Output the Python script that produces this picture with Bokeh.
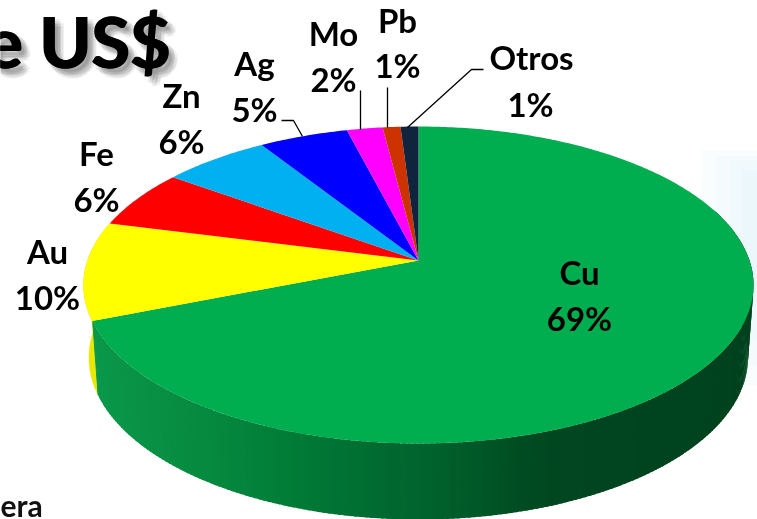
import math
from bokeh.plotting import figure
from bokeh.models import Range1d
from bokeh.core.properties import value
from bokeh.embed import file_html
from bokeh.resources import INLINE

categories = ["Cu", "Au", "Fe", "Zn", "Ag", "Mo", "Pb", "Otros"]
shares = [69, 10, 6, 6, 5, 2, 1, 1]
labels = ["69%", "10%", "6%", "6%", "5%", "2%", "1%", "1%"]
colors = ["#00AE4F", "#FFFF00", "#FF0000", "#00B0F0", "#0000FF", "#FF00FF", "#CC3300", "#10243E"]

W, H = 757, 519
FONT = value("Lato")
LIFT = 0.388  # renderer places alphabetic text this many em too low

# perspective pie geometry (pixels)
CX, TOP_CY, TOP_RX, TOP_RY = 418.0, 284.5, 335.0, 158.5
LOW_CY, LOW_RX, LOW_RY = 357.0, 329.5, 162.0
APEX = 0.1546
K = math.sqrt(1 - APEX ** 2)


def rim(theta_deg, cy, rx, ry):
    t = math.radians(theta_deg)
    X, Y = math.sin(t), math.cos(t)
    d = 1 + APEX * Y
    return CX + rx * X * K / d, cy - ry * (Y + APEX) / d


def apex():
    return CX, TOP_CY - TOP_RY * APEX


def side_color(x):
    stops = [(90, (11, 152, 74)), (200, (6, 138, 64)), (300, (0, 122, 54)), (380, (0, 106, 48)),
             (440, (0, 96, 44)), (520, (0, 76, 34)), (560, (0, 70, 32)), (760, (0, 66, 30))]
    for (x0, c0), (x1, c1) in zip(stops, stops[1:]):
        if x <= x1:
            f = max(0, (x - x0) / (x1 - x0))
            return "#%02x%02x%02x" % tuple(round(a + (b - a) * f) for a, b in zip(c0, c1))
    return "#00421e"


def put_text(x, y, s, size, align="center", color="black", alpha=1.0):
    p.text([x], [y - LIFT * size], text=[s], text_font=FONT, text_font_style="bold",
           text_font_size=f"{size}px", text_align=align, text_baseline="alphabetic",
           text_color=color, text_alpha=alpha)


p = figure(width=W, height=H, output_backend="svg", toolbar_location=None,
           x_range=Range1d(0, W), y_range=Range1d(H, 0), min_border=0,
           outline_line_color=None, background_fill_color="white", border_fill_color="white")
p.axis.visible = False
p.grid.visible = False
p.styles = {"position": "fixed", "left": "0px", "top": "0px"}

# pale blue haze of the slide background at the right edge
for x0, y0, y1 in [(700, 150, 300), (715, 155, 340), (730, 160, 365), (742, 170, 385)]:
    p.quad(left=[x0], right=[W], top=[y0], bottom=[y1], fill_color="#BBDDF5", fill_alpha=0.07, line_color=None)

# wedge boundaries, clockwise from 12 o'clock
bounds = [0.0]
for s in shares:
    bounds.append(bounds[-1] + s * 3.6)

# side wall of the yellow slice (sliver visible at the left)
a0, a1 = bounds[1], bounds[2]
steps = [a0 + (a1 - a0) * i / 40 for i in range(41)]
xs = [rim(a, TOP_CY, TOP_RX, TOP_RY)[0] for a in steps] + [rim(a, LOW_CY, LOW_RX, LOW_RY)[0] for a in reversed(steps)]
ys = [rim(a, TOP_CY, TOP_RX, TOP_RY)[1] for a in steps] + [rim(a, LOW_CY, LOW_RX, LOW_RY)[1] for a in reversed(steps)]
p.patch(xs, ys, fill_color="#E8E800", line_color="#E8E800", line_width=0.5)

# side wall of the green slice with a light-to-dark shading
start, end = 70.0, bounds[1]
n = 220
for i in range(n):
    a = start + (end - start) * i / n
    b = min(start + (end - start) * (i + 1.6) / n, end)
    t0, t1 = rim(a, TOP_CY, TOP_RX, TOP_RY), rim(b, TOP_CY, TOP_RX, TOP_RY)
    l0, l1 = rim(a, LOW_CY, LOW_RX, LOW_RY), rim(b, LOW_CY, LOW_RX, LOW_RY)
    c = side_color((t0[0] + t1[0]) / 2)
    p.patch([t0[0], t1[0], l1[0], l0[0]], [t0[1], t1[1], l1[1], l0[1]], fill_color=c, line_color=None)

# top faces
ax, ay = apex()
for i, col in enumerate(colors):
    a0, a1 = bounds[i], bounds[i + 1]
    k = max(3, int((a1 - a0) * 1.5))
    pts = [rim(a0 + (a1 - a0) * j / k, TOP_CY, TOP_RX, TOP_RY) for j in range(k + 1)]
    p.patch([ax] + [q[0] for q in pts], [ay] + [q[1] for q in pts], fill_color=col, line_color=None)

# leader lines
for lx, ly in [([407, 471, 483], [127, 69, 69]), ([387, 387], [127, 87]),
               ([360, 360], [129, 90]), ([281, 293, 302], [120, 120, 136])]:
    p.line(lx, ly, line_color="black", line_width=1.3)

# pie labels: name and percentage lines
name_pos = [(579, 284), (47, 263), (96, 165), (181, 107), (254, 75), (333, 45), (397, 32), (531, 69)]
pct_pos = [(579, 330), (47, 309), (96, 211), (181, 153), (254, 121), (333, 91), (397, 77), (530, 116)]
for c, l, (nx, ny), (vx, vy) in zip(categories, labels, name_pos, pct_pos):
    put_text(nx, ny, c, 33)
    put_text(vx, vy, l, 33)

# clipped slide title and footer
for dx, dy in [(4, 4), (7, 4), (4, 7), (7, 7), (10, 6), (6, 10), (9, 9), (2, 6), (6, 2)]:
    put_text(170 + dx, 68 + dy, "e US$", 70, align="right", color="#555555", alpha=0.09)
for dx in (-1, 0, 1):
    put_text(170 + dx, 68, "e US$", 70, align="right")
put_text(0, 516, "era", 30, align="left", color="#111111")

open("out.html", "w").write(file_html(p, INLINE))
